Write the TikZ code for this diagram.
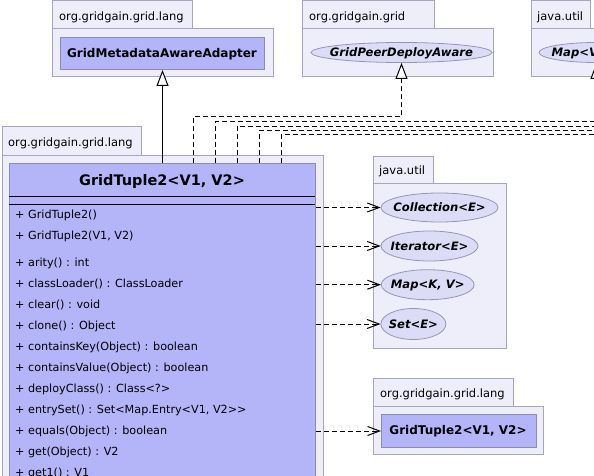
\documentclass[tikz,border=0pt]{standalone}
\usepackage{fontspec}
\setmainfont{DejaVu Sans}
\usetikzlibrary{arrows.meta,shapes.geometric}
\definecolor{pkgfill}{RGB}{238,238,250}
\definecolor{pkgline}{RGB}{165,165,190}
\definecolor{clsfill}{RGB}{180,180,248}
\definecolor{clsline}{RGB}{140,140,175}
\definecolor{ifill}{RGB}{220,220,246}
\definecolor{iline}{RGB}{150,150,180}
\begin{document}
\begin{tikzpicture}[x=1pt,y=-1pt,
  pkg/.style={draw=pkgline,fill=pkgfill,line width=1pt},
  box/.style={draw=clsline,fill=clsfill,line width=1pt,inner sep=0pt,anchor=north west},
  iface/.style={ellipse,draw=iline,fill=ifill,line width=0.8pt,inner sep=0pt},
  itext/.style={font=\fontsize{11.6}{13}\selectfont\bfseries\itshape,inner sep=0pt,text height=8.4pt,text depth=0pt},
  ptext/.style={font=\fontsize{11.5}{13}\selectfont,anchor=base west,inner sep=0pt},
  mtext/.style={font=\fontsize{11.2}{13}\selectfont,anchor=base west,inner sep=0pt},
  ctext/.style={font=\fontsize{12}{14}\selectfont\bfseries,anchor=base,inner sep=0pt},
  ttext/.style={font=\fontsize{14.5}{16}\selectfont\bfseries,anchor=base,inner sep=0pt},
  conn/.style={draw,line width=1pt,dash pattern=on 5pt off 3pt},
  real/.style={conn,-{Triangle[length=16pt,width=12pt,fill=white]}},
  gen/.style={draw,line width=1pt,-{Triangle[length=16pt,width=12pt,fill=white]}},
  dep/.style={conn,-{Straight Barb[length=12pt,width=9pt]}}]
\useasboundingbox (0,0) rectangle (594,476);
\clip (0,0) rectangle (594,476);

% --- package org.gridgain.grid.lang (top left)
\draw[pkg] (52,1) rectangle (192,29);
\draw[pkg] (52,29) rectangle (273,77);
\node[ptext] (p1) at (59,20.5) {org.gridgain.grid.lang};
\node[box,minimum width=204pt,minimum height=32pt] (gma) at (60,37) {};
\node[ctext] (gmat) at (162,57.3) {GridMetadataAwareAdapter};

% --- package org.gridgain.grid
\draw[pkg] (302,1) rectangle (434,29);
\draw[pkg] (302,29) rectangle (493,77);
\node[ptext] (p2) at (309,20.5) {org.gridgain.grid};
\node[iface,minimum width=181pt,minimum height=20pt,
      label={[itext]center:GridPeerDeployAware}] (gpda) at (401.5,52.5) {};

% --- package java.util (top right)
\draw[pkg] (531,1) rectangle (590,29);
\draw[pkg] (531,29) rectangle (690,77);
\node[ptext] (p3) at (537,20.5) {java.util};
\node[iface,minimum width=115pt,minimum height=20pt,
      label={[itext]center:Map<V1, V2>}] (mapt) at (596.5,52.5) {};

% --- main package org.gridgain.grid.lang
\draw[pkg] (2,127) rectangle (141,155);
\draw[pkg] (2,155) rectangle (323,520);
\node[ptext] (p4) at (8,146.5) {org.gridgain.grid.lang};
\node[box,minimum width=306pt,minimum height=360pt] (gt) at (9,163) {};
\node[ttext] (gtt) at (162,185.2) {GridTuple2<V1, V2>};
\draw[line width=1pt] (9,196) -- (315,196);
\draw[line width=1pt] (9,204.3) -- (315,204.3);
\node[mtext] (m1) at (15,218.3) {+ GridTuple2()};
\node[mtext] (m2) at (15,239.7) {+ GridTuple2(V1, V2)};
\node[mtext] (m3) at (15,266.3) {+ arity() : int};
\node[mtext] (m4) at (15,287.3) {+ classLoader() : ClassLoader};
\node[mtext] (m5) at (15,308.4) {+ clear() : void};
\node[mtext] (m6) at (15,329.4) {+ clone() : Object};
\node[mtext] (m7) at (15,350.5) {+ containsKey(Object) : boolean};
\node[mtext] (m8) at (15,371.5) {+ containsValue(Object) : boolean};
\node[mtext] (m9) at (15,392.6) {+ deployClass() : Class<?>};
\node[mtext] (m10) at (15,413.6) {+ entrySet() : Set<Map.Entry<V1, V2>{}>};
\node[mtext] (m11) at (15,434.7) {+ equals(Object) : boolean};
\node[mtext] (m12) at (15,455.7) {+ get(Object) : V2};
\node[mtext] (m13) at (15,476.8) {+ get1() : V1};

% --- package java.util (middle)
\draw[pkg] (373,156) rectangle (433,183);
\draw[pkg] (373,183) rectangle (506,348);
\node[ptext] (p5) at (379,174.5) {java.util};
\node[iface,minimum width=117pt,minimum height=29pt,
      label={[itext]center:Collection<E>}] (coll) at (439.5,207.5) {};
\node[iface,minimum width=97pt,minimum height=30pt,
      label={[itext]center:Iterator<E>}] (iter) at (429.5,246) {};
\node[iface,minimum width=93pt,minimum height=30pt,
      label={[itext]center:Map<K, V>}] (map) at (427.7,284.7) {};
\node[iface,minimum width=65pt,minimum height=31pt,
      label={[itext]center:Set<E>}] (set) at (413.4,324) {};

% --- package org.gridgain.grid.lang (lower right)
\draw[pkg] (373,378) rectangle (513,406);
\draw[pkg] (373,406) rectangle (543,454);
\node[ptext] (p6) at (380,397) {org.gridgain.grid.lang};
\node[box,minimum width=155pt,minimum height=33pt] (gtr) at (381,414) {};
\node[ctext] (gtrt) at (458,434.8) {GridTuple2<V1, V2>};

% --- connectors
\draw[gen] (gt.north) -- (gma.south);
\draw[real] ([xshift=184pt]gt.north west) -- ++(0,-46) -| (gpda.south);
\draw[real] ([xshift=206pt]gt.north west) -- ++(0,-41) -| (mapt.south);
\coordinate (far3) at (700,126.3);
\coordinate (far4) at (700,130.5);
\coordinate (far5) at (700,134.7);
\draw[conn] ([xshift=228pt]gt.north west) |- (far3);
\draw[conn] ([xshift=250pt]gt.north west) |- (far4);
\draw[conn] ([xshift=272pt]gt.north west) |- (far5);
\draw[dep] (gt.east |- coll.west) -- (coll.west);
\draw[dep] (gt.east |- iter.west) -- (iter.west);
\draw[dep] (gt.east |- map.west) -- (map.west);
\draw[dep] (gt.east |- set.west) -- (set.west);
\draw[dep] (gt.east |- gtr.west) -- (gtr.west);
\end{tikzpicture}
\end{document}
